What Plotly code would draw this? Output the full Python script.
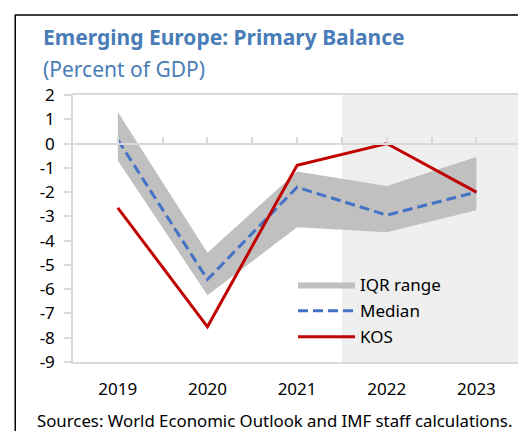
import plotly.graph_objects as go

years = [2019, 2020, 2021, 2022, 2023]
iqr_upper = [1.3, -4.5, -1.15, -1.75, -0.55]
iqr_lower = [-0.7, -6.25, -3.45, -3.65, -2.75]
median = [0.15, -5.6, -1.8, -2.95, -2.0]
kos = [-2.65, -7.55, -0.9, 0.0, -2.0]
y_ticks = list(range(-9, 3))
y_tick_labels = [str(v) for v in y_ticks]
x_half_ticks = [2018.5 + 0.5 * i for i in range(11)]
forecast_start = 2021.5
x_range = [2018.5, 2023.52]

OFF = 8  # default page body margin
W, H = 526 - OFF, 431 - OFF
L, R, T, B = 73 - OFF, 1, 95 - OFF, 69
PW, PH = W - L - R, H - T - B

def px(x):
    return (x - OFF - L) / PW

def py(y):
    return (H - B - (y - OFF)) / PH

FONT = "Noto Sans"
TITLE_C = "#4a7db8"
GRID_C = "#d9d9d9"

fig = go.Figure()
fig.add_trace(go.Scatter(x=years, y=iqr_lower, mode="lines", line=dict(width=0),
                         showlegend=False, hoverinfo="skip", legendgroup="a"))
fig.add_trace(go.Scatter(x=years, y=iqr_upper, mode="lines", line=dict(width=0),
                         fill="tonexty", fillcolor="#c0c0c0", name="IQR range", legendgroup="a"))
fig.add_trace(go.Scatter(x=years, y=median, mode="lines", name="Median", legendgroup="b",
                         line=dict(color="#4472c4", width=3, dash="10px,5px")))
fig.add_trace(go.Scatter(x=years, y=kos, mode="lines", name="KOS", legendgroup="c",
                         line=dict(color="#c00000", width=3)))
fig.add_trace(go.Scatter(x=[], y=[], xaxis="x2", showlegend=False))

fig.add_shape(type="rect", xref="x", yref="paper", x0=forecast_start, x1=x_range[1],
              y0=0, y1=1, fillcolor="#efefef", line=dict(width=0), layer="below")
fig.add_shape(type="rect", xref="paper", yref="paper", x0=px(15), x1=px(540),
              y0=py(445), y1=py(15), line=dict(color="black", width=1.5), layer="above")

fig.add_annotation(xref="paper", yref="paper", x=px(41), y=py(37), xanchor="left", yanchor="middle",
                   text="<b>Emerging Europe: Primary Balance</b>", showarrow=False,
                   font=dict(family=FONT, size=21, color=TITLE_C))
fig.add_annotation(xref="paper", yref="paper", x=px(41), y=py(69), xanchor="left", yanchor="middle",
                   text="(Percent of GDP)", showarrow=False,
                   font=dict(family=FONT, size=21, color=TITLE_C))
fig.add_annotation(xref="paper", yref="paper", x=px(35), y=py(420), xanchor="left", yanchor="middle",
                   text="Sources: World Economic Outlook and IMF staff calculations.", showarrow=False,
                   font=dict(family=FONT, size=16.8, color="black"))

fig.update_layout(
    width=W, height=H, margin=dict(l=L, r=R, t=T, b=B),
    paper_bgcolor="white", plot_bgcolor="rgba(0,0,0,0)",
    font=dict(family=FONT, size=17, color="black"),
    xaxis=dict(range=x_range, tickvals=years, ticks="", showgrid=False, zeroline=False,
               showline=True, mirror=True, linecolor=GRID_C, linewidth=1.5,
               ticklabelstandoff=11),
    xaxis2=dict(range=x_range, overlaying="x", anchor="free", position=9 / 11, side="bottom",
                tickvals=x_half_ticks, ticks="inside", ticklen=6, tickcolor=GRID_C, tickwidth=1.5,
                showticklabels=False, showline=True, linecolor=GRID_C, linewidth=1.5,
                showgrid=False, zeroline=False),
    yaxis=dict(range=[-9, 2], tickvals=y_ticks, ticktext=y_tick_labels, ticks="outside",
               ticklen=7, tickcolor=GRID_C, tickwidth=1.5, showgrid=False, zeroline=False,
               showline=True, mirror=True, linecolor=GRID_C, linewidth=1.5,
               ticklabelstandoff=6),
    legend=dict(x=px(294), y=py(267), xanchor="left", yanchor="top", bgcolor="rgba(0,0,0,0)",
                itemwidth=57, tracegroupgap=1, traceorder="grouped",
                font=dict(family=FONT, size=17, color="black")),
    showlegend=True,
)

fig.write_html("out.html")
